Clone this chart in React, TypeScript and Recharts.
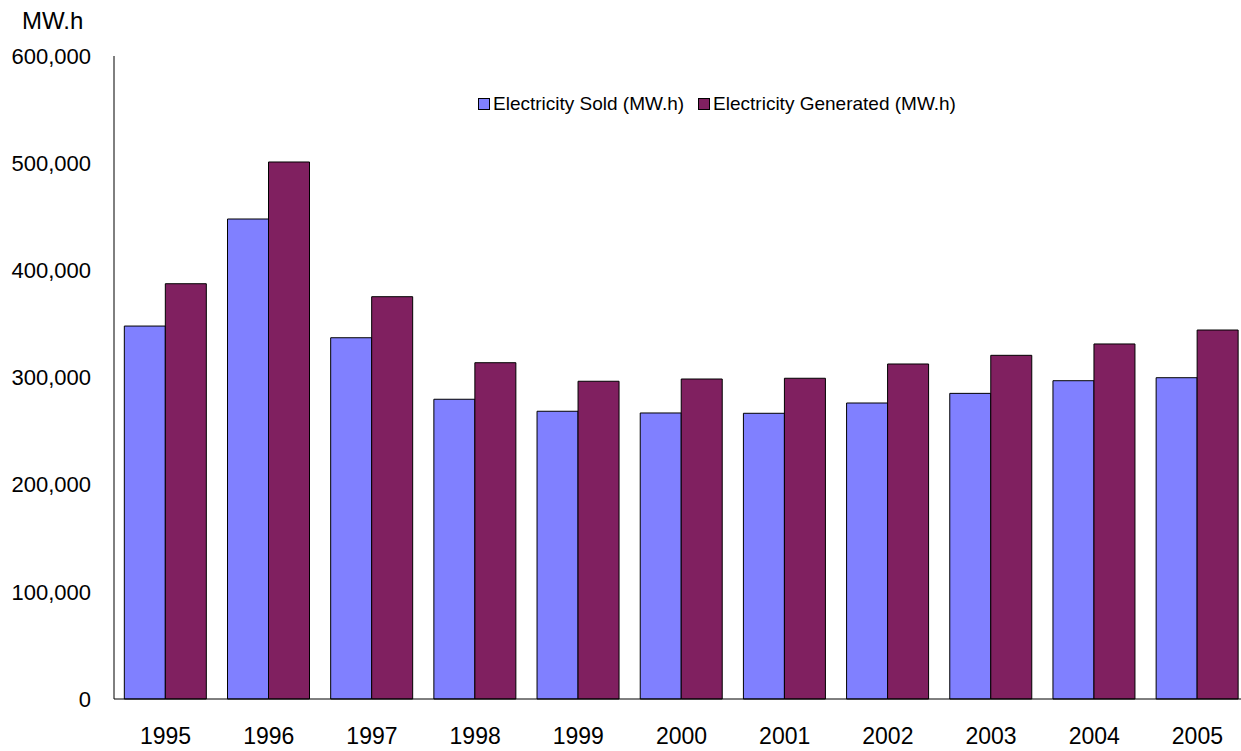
import { BarChart, Bar, XAxis, YAxis } from "recharts";

const years = ["1995", "1996", "1997", "1998", "1999", "2000", "2001", "2002", "2003", "2004", "2005"];
const sold = [348000, 447900, 337100, 279700, 268500, 266900, 266600, 276200, 285200, 297000, 299800];
const generated = [387500, 501100, 375400, 313800, 296500, 298600, 299300, 312600, 320700, 331300, 344300];
const yTicks = [0, 100000, 200000, 300000, 400000, 500000, 600000];

const SOLD = "#8080FF";
const GEN = "#802060";
const FONT = "'Liberation Sans', Arial, sans-serif";

const data = years.map((y, i) => ({ year: y, sold: sold[i], generated: generated[i] }));

const fmt = (v: number) => v.toLocaleString("en-US");

function LegendBox() {
  const items = [
    { label: "Electricity Sold (MW.h)", color: SOLD },
    { label: "Electricity Generated (MW.h)", color: GEN },
  ];
  return (
    <div style={{ display: "flex", alignItems: "center", fontFamily: FONT, fontSize: 19, color: "#000" }}>
      {items.map((it) => (
        <div key={it.label} style={{ display: "flex", alignItems: "center", marginRight: 14 }}>
          <span style={{ width: 10, height: 10, background: it.color, border: "1px solid #000", marginRight: 3 }} />
          <span>{it.label}</span>
        </div>
      ))}
    </div>
  );
}

export default function App() {
  return (
    <div style={{ position: "fixed", left: 0, top: 0, width: 1241, height: 751, overflow: "hidden", background: "#fff" }}>
      <div style={{ position: "absolute", left: 22, top: 7, fontFamily: FONT, fontSize: 24, color: "#000" }}>MW.h</div>
      <div style={{ position: "absolute", left: 478, top: 93 }}>
        <LegendBox />
      </div>
      <BarChart
        width={1260}
        height={751}
        data={data}
        margin={{ top: 56, right: 11, left: 0, bottom: 0 }}
        barCategoryGap="10%"
        barGap={0}
      >
        <XAxis
          dataKey="year"
          height={52}
          axisLine={{ stroke: "#000" }}
          tickLine={false}
          tickSize={6}
          tickMargin={23}
          tick={{ fill: "#000", fontSize: 23, fontFamily: FONT }}
        />
        <YAxis
          width={114}
          domain={[0, 600000]}
          ticks={yTicks}
          tickFormatter={fmt}
          axisLine={{ stroke: "#000" }}
          tickLine={false}
          tickSize={6}
          tickMargin={17}
          tick={{ fill: "#000", fontSize: 22, fontFamily: FONT }}
        />
        <Bar dataKey="sold" fill={SOLD} stroke="#000" strokeWidth={1} isAnimationActive={false} />
        <Bar dataKey="generated" fill={GEN} stroke="#000" strokeWidth={1} isAnimationActive={false} />
      </BarChart>
    </div>
  );
}
